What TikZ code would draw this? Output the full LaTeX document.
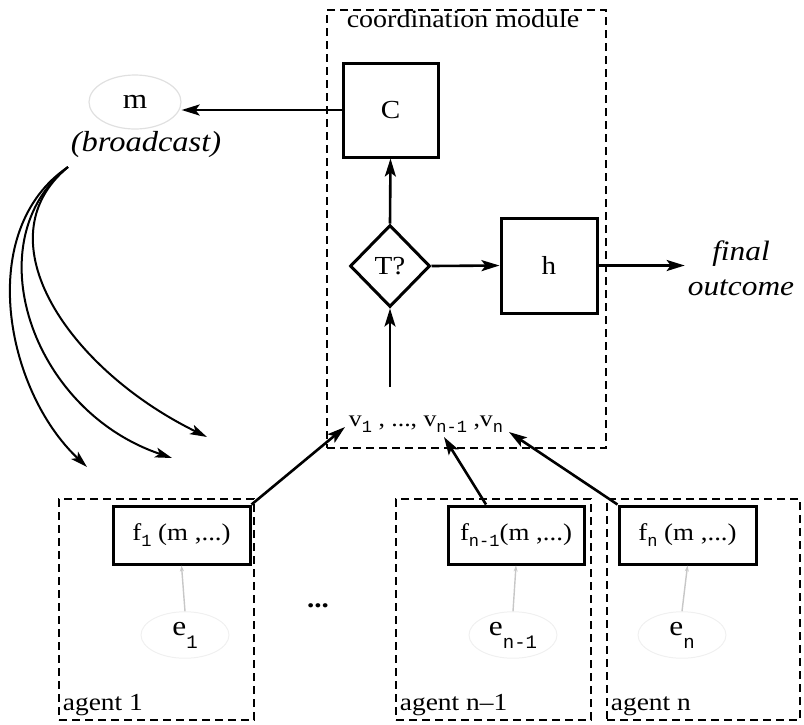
\documentclass[tikz,border=0pt]{standalone}
\usepackage{fontspec}
\setmainfont{Liberation Serif}[FakeStretch=1.12]
\newfontfamily\subf{Liberation Mono}[FakeStretch=1.0]
\usetikzlibrary{shapes.geometric,arrows.meta,calc}
\newcommand{\sbx}[1]{\raisebox{-0.55ex}{\fontsize{17}{17}\subf #1}}
\newcommand{\sbe}[1]{\raisebox{-13pt}{\fontsize{19}{19}\subf #1}}
\begin{document}
\begin{tikzpicture}[x=1pt,y=-1pt,
  arr/.style={line width=2.6pt,-{Stealth[length=18pt,width=11pt,inset=4pt]}},
  curv/.style={line width=2pt,-{Stealth[length=17pt,width=10pt,inset=4pt]}},
  faint/.style={draw=black!22,line width=1.4pt,-{Stealth[length=6pt,width=4pt]}},
  solidbox/.style={draw,line width=3pt,inner sep=0pt},
  dashbox/.style={draw,line width=2.6pt,dash pattern=on 8pt off 5pt,inner sep=0pt},
  lbl/.style={font=\fontsize{24.5}{28}\selectfont,inner sep=2pt},
  ftxt/.style={font=\fontsize{24}{28}\selectfont}
]
\useasboundingbox (0,0) rectangle (804,724);

% coordination module
\node[dashbox,minimum width=279pt,minimum height=438pt] (mod) at (466.5,229) {};
\node[font=\fontsize{25}{28}\selectfont,anchor=north] (modlbl) at (463,7) {coordination module};
\node[solidbox,minimum width=95pt,minimum height=94pt,font=\fontsize{26}{30}\selectfont] (C) at (390.5,110) {C};
\node[solidbox,diamond,aspect=1,minimum width=80pt,minimum height=82pt,font=\fontsize{26}{28}\selectfont] (T) at (390,266) {T?};
\node[solidbox,minimum width=96pt,minimum height=95pt,font=\fontsize{26}{30}\selectfont] (h) at (549,265.5) {h};

% broadcast
\node[ellipse,draw=black!12,line width=1.2pt,minimum width=92pt,minimum height=54pt,font=\fontsize{28}{30}\selectfont] (m) at (135,102) {m};
\node[font=\fontsize{29}{32}\selectfont\itshape] (bc) at (146,145) {(broadcast)};
\coordinate (bs) at (68,167);

% final outcome
\node[font=\fontsize{28}{35}\selectfont\itshape,align=center,inner sep=3pt] (fo) at (741,268) {final\\outcome};

% values
\node[ftxt,font=\fontsize{23}{26}\selectfont] (vv) at (426,424) {v\sbx{1} , ..., v\sbx{n-1} ,v\sbx{n}};
\coordinate (vt) at (390,387);
\coordinate (v1t) at (345,427);
\coordinate (vn1t) at (444,437);
\coordinate (vnt) at (509,432);

% agents
\node[dashbox,minimum width=195pt,minimum height=221pt] (a1) at (156.5,609.5) {};
\node[dashbox,minimum width=195pt,minimum height=221pt] (an1) at (493.5,609.5) {};
\node[dashbox,minimum width=193pt,minimum height=221pt] (an) at (703.5,609.5) {};
\node[lbl,anchor=south west] (a1l) at ($(a1.south west)+(3,-3)$) {agent 1};
\node[lbl,anchor=south west] (an1l) at ($(an1.south west)+(3,-3)$) {agent n--1};
\node[lbl,anchor=south west] (anl) at ($(an.south west)+(3,-3)$) {agent n};
\node[font=\fontsize{26}{28}\selectfont\bfseries] (dots) at (318,606) {...};

\node[solidbox,minimum width=137pt,minimum height=58pt,ftxt] (f1) at (181.5,535) {f\sbx{1} (m ,...)};
\node[solidbox,minimum width=136pt,minimum height=58pt,ftxt] (fn1) at (516,535) {f\sbx{n-1}(m ,...)};
\node[solidbox,minimum width=137pt,minimum height=58pt,ftxt] (fn) at (687.5,535) {f\sbx{n} (m ,...)};

\node[ellipse,draw=black!6,line width=1pt,minimum width=88pt,minimum height=44pt,font=\fontsize{28}{30}\selectfont] (e1) at (185,635) {e\sbe{1}};
\node[ellipse,draw=black!6,line width=1pt,minimum width=88pt,minimum height=44pt,font=\fontsize{28}{30}\selectfont] (en1) at (513,635) {e\sbe{n-1}};
\node[ellipse,draw=black!6,line width=1pt,minimum width=88pt,minimum height=44pt,font=\fontsize{28}{30}\selectfont] (en) at (682,635) {e\sbe{n}};

% connectors
\draw[arr] (C.west) -- (C.west -| m.east);
\draw[arr] (T.north) -- (C.south);
\draw[arr] (T.east) -- (h.west);
\draw[arr] (h.east) -- (h.east -| fo.west);
\draw[arr] (vt) -- (T.south);

\coordinate (c1e) at (87,467);
\coordinate (c2e) at (172,458);
\coordinate (c3e) at (207,437);
\draw[curv] (bs) .. controls (-25,230) and (5,390) .. (c1e);
\draw[curv] (bs) .. controls (-25,240) and (30,410) .. (c2e);
\draw[curv] (bs) .. controls (-20,240) and (70,370) .. (c3e);

\draw[arr] (f1.north east) -- (v1t);
\draw[arr] ($(fn1.north)+(-30,0)$) -- (vn1t);
\draw[arr] (fn.north west) -- (vnt);

\draw[faint] (e1.north) -- (f1.south);
\draw[faint] (en1.north) -- (fn1.south);
\draw[faint] (en.north) -- (fn.south);
\end{tikzpicture}
\end{document}
